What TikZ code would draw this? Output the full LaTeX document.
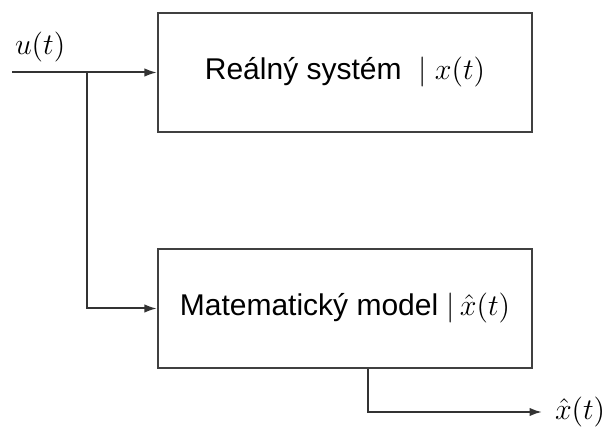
\documentclass[tikz,border=0pt]{standalone}
\usepackage{amsmath, amssymb, fontspec}
\usetikzlibrary{arrows.meta, calc}
\newfontfamily\arialfont{Liberation Sans}

\tikzset{
  blok/.style={draw=black!75, line width=0.9pt, minimum width=149.6pt, minimum height=47.6pt, font=\arialfont\fontsize{12}{14}\selectfont},
  spoj/.style={draw=black!80, line width=0.8pt},
  popis/.style={font=\fontsize{13}{15}\selectfont},
  >={Latex[length=5pt,width=3.4pt]}
}

\begin{document}
\begin{tikzpicture}[x=0.4pt, y=-0.4pt]
  % frame of the picture
  \useasboundingbox (0,0) rectangle (607,432);

  % blocks
  \node[blok] (real) at (345,72.5) {Re\'aln\'y syst\'em~~$|\;x(t)$};
  \node[blok] (model) at (345,308.5) {Matematick\'y model $|\,\hat{x}(t)$};

  % input u(t)
  \coordinate (vstup) at (12,72.5);
  \coordinate (uzel) at (87,72.5);
  \node[popis, above right, inner sep=1pt] (ulab) at ($(vstup)+(0,-7)$) {$u(t)$};
  \draw[spoj, ->] (vstup) -- (real.west);
  \draw[spoj, ->] (uzel) |- (model.west);

  % output of the model
  \coordinate (odbocka) at ($(model.south)+(23,0)$);
  \coordinate (konec) at (542,412);
  \draw[spoj, ->] (odbocka) |- (konec);
  \node[popis, right, inner sep=5pt] (xlab) at (konec) {$\hat{x}(t)$};
\end{tikzpicture}
\end{document}
